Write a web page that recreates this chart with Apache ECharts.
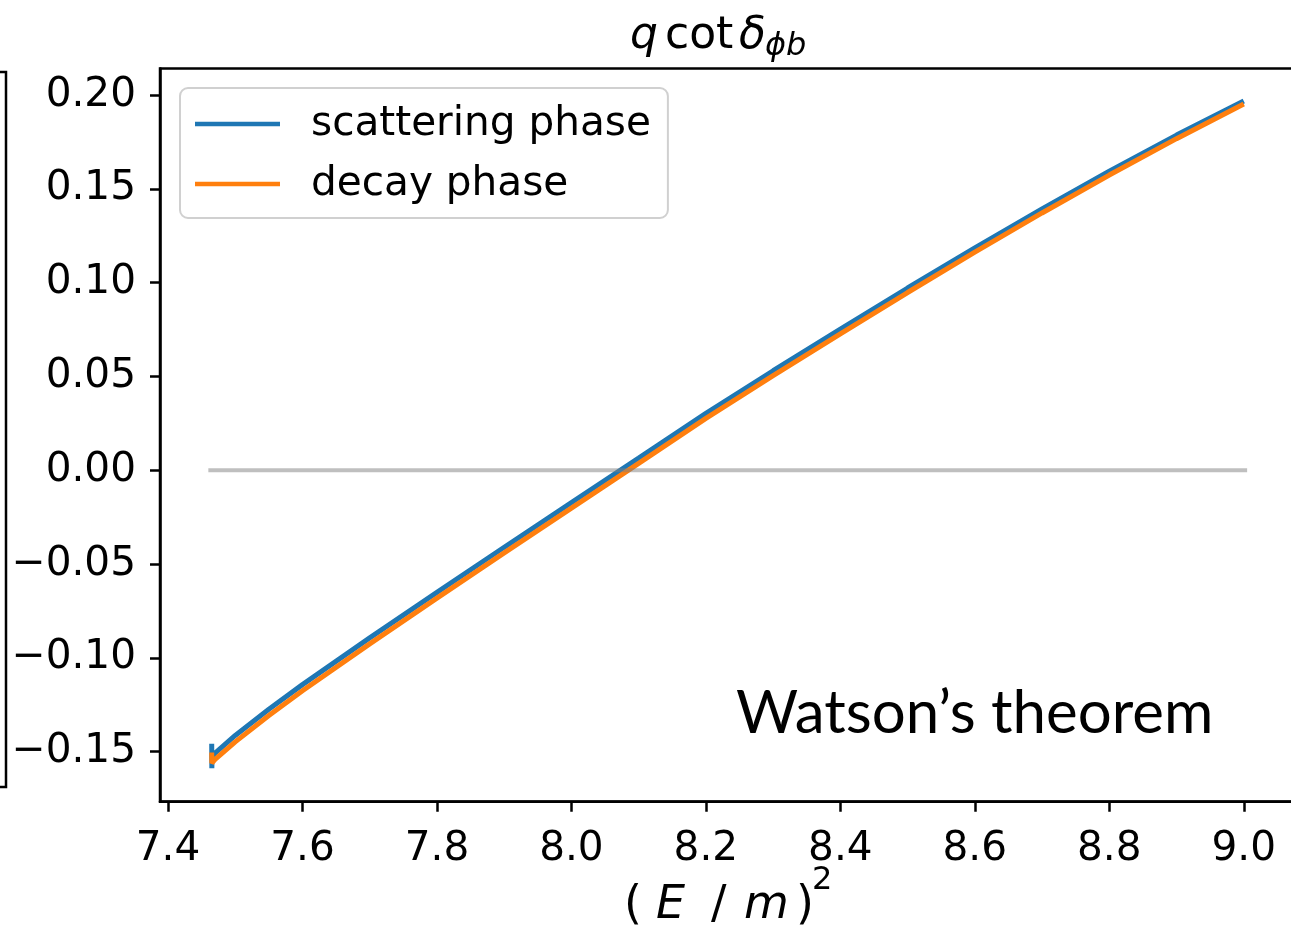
<!DOCTYPE html>
<html>
<head>
<meta charset="utf-8">
<script src="https://cdn.jsdelivr.net/npm/echarts@6/dist/echarts.min.js"></script>
<style>
  html, body { margin: 0; padding: 0; background: #fff; overflow: hidden; }
  #chart { width: 1311px; height: 926px; }
</style>
</head>
<body>
<div id="chart"></div>
<script>
// (E/m)^2 sample points shared by both phase curves
const energySq = [7.465, 7.4652, 7.4655, 7.47, 7.5, 7.55, 7.6, 7.7, 7.8, 7.9, 8.0, 8.1, 8.2, 8.3, 8.4, 8.5, 8.6, 8.7, 8.8, 8.9, 9.0];
// q cot(delta) from the scattering phase
const scatteringPhase = [-0.1458, -0.1588, -0.1530, -0.1508, -0.1414, -0.1274, -0.1143, -0.0894, -0.0651, -0.0411, -0.0173, 0.0064, 0.0303, 0.0530, 0.0752, 0.0971, 0.1185, 0.1393, 0.1594, 0.1786, 0.1968];
// q cot(delta) from the decay phase
const decayPhase = [-0.1505, -0.1562, -0.1556, -0.1542, -0.1448, -0.1308, -0.1176, -0.0926, -0.0682, -0.0441, -0.0202, 0.0036, 0.0276, 0.0504, 0.0727, 0.0947, 0.1162, 0.1371, 0.1573, 0.1767, 0.1952];
// zero reference line
const zeroLineX = [7.46, 9.005];
const zeroLineY = [0, 0];
// tick positions
const xTicks = [7.4, 7.6, 7.8, 8.0, 8.2, 8.4, 8.6, 8.8, 9.0];
const yTicks = [-0.15, -0.10, -0.05, 0.00, 0.05, 0.10, 0.15, 0.20];

const zip = (xs, ys) => xs.map((x, i) => [x, ys[i]]);
const FONT = 'DejaVu Sans';

const chart = echarts.init(document.getElementById('chart'), null, { renderer: 'canvas' });

const fmtY = v => {
  const s = Math.abs(v).toFixed(2);
  return v < -1e-9 ? '\u2212' + s : s;
};

const txt = (x, y, text, font) => ({
  type: 'text', x, y, style: { text, font, fill: '#000', verticalAlign: 'middle' }
});

const option = {
  animation: false,
  backgroundColor: '#fff',
  grid: {
    left: 160, top: 68.5, bottom: 124.3, right: 0,
    show: true, borderColor: '#000', borderWidth: 2.5, backgroundColor: 'transparent'
  },
  xAxis: {
    type: 'value', min: 7.3881, max: 9.1,
    axisLine: { show: true, onZero: false, lineStyle: { color: '#000', width: 2.5 } },
    axisTick: { show: true, length: 10, lineStyle: { color: '#000', width: 2.5 }, customValues: xTicks },
    axisLabel: {
      customValues: xTicks, margin: 27, color: '#000', fontFamily: FONT, fontSize: 40.6,
      formatter: v => v.toFixed(1)
    },
    splitLine: { show: false }
  },
  yAxis: {
    type: 'value', min: -0.1767, max: 0.2141,
    axisLine: { show: true, onZero: false, lineStyle: { color: '#000', width: 2.5 } },
    axisTick: { show: true, length: 10, lineStyle: { color: '#000', width: 2.5 }, customValues: yTicks },
    axisLabel: {
      customValues: yTicks, margin: 24, color: '#000', fontFamily: FONT, fontSize: 40.6,
      formatter: fmtY
    },
    splitLine: { show: false }
  },
  legend: {
    orient: 'vertical', left: 180, top: 88,
    padding: [13, 17, 11, 15],
    itemWidth: 85, itemHeight: 4.5, itemGap: 14,
    icon: 'rect',
    borderColor: '#d0d0d0', borderWidth: 2, borderRadius: 8,
    backgroundColor: 'rgba(255,255,255,0.8)',
    textStyle: { color: '#000', fontFamily: FONT, fontSize: 40.6, lineHeight: 46, padding: [0, 0, 0, 26] },
    data: ['scattering phase', 'decay phase']
  },
  series: [
    {
      name: 'scattering phase', type: 'line', data: zip(energySq, scatteringPhase),
      showSymbol: false, color: '#1f77b4', lineStyle: { width: 5, color: '#1f77b4' }, z: 2
    },
    {
      name: 'decay phase', type: 'line', data: zip(energySq, decayPhase),
      showSymbol: false, color: '#ff7f0e', lineStyle: { width: 5, color: '#ff7f0e' }, z: 3
    },
    {
      name: 'zero', type: 'line', data: zip(zeroLineX, zeroLineY),
      showSymbol: false, silent: true, lineStyle: { width: 4, color: 'rgba(128,128,128,0.5)' }, z: 4
    }
  ],
  graphic: [
    // bracket edge at the far left
    { type: 'polyline', shape: { points: [[0, 72], [6, 72], [6, 787], [0, 787]] },
      style: { stroke: '#000', lineWidth: 2.5, fill: null } },
    // title: q cot δ_ϕb
    txt(630, 37, 'q', 'italic 44px "DejaVu Sans"'),
    txt(665, 37, 'cot', '44px "DejaVu Sans"'),
    txt(739, 37, 'δ', 'italic 44px "DejaVu Sans"'),
    txt(765, 47, 'ϕb', 'italic 32px "DejaVu Sans"'),
    // x-axis name: ( E / m )^2
    txt(624, 906, '(', '46px "DejaVu Sans"'),
    txt(656, 906, 'E', 'italic 46px "DejaVu Sans"'),
    txt(711, 906, '/', '46px "DejaVu Sans"'),
    txt(744, 906, 'm', 'italic 46px "DejaVu Sans"'),
    txt(796, 906, ')', '46px "DejaVu Sans"'),
    txt(812, 881, '2', '32px "DejaVu Sans"'),
    // annotation
    txt(736, 714, 'Watson’s theorem', '60px Lato')
  ]
};

chart.setOption(option);
</script>
</body>
</html>
